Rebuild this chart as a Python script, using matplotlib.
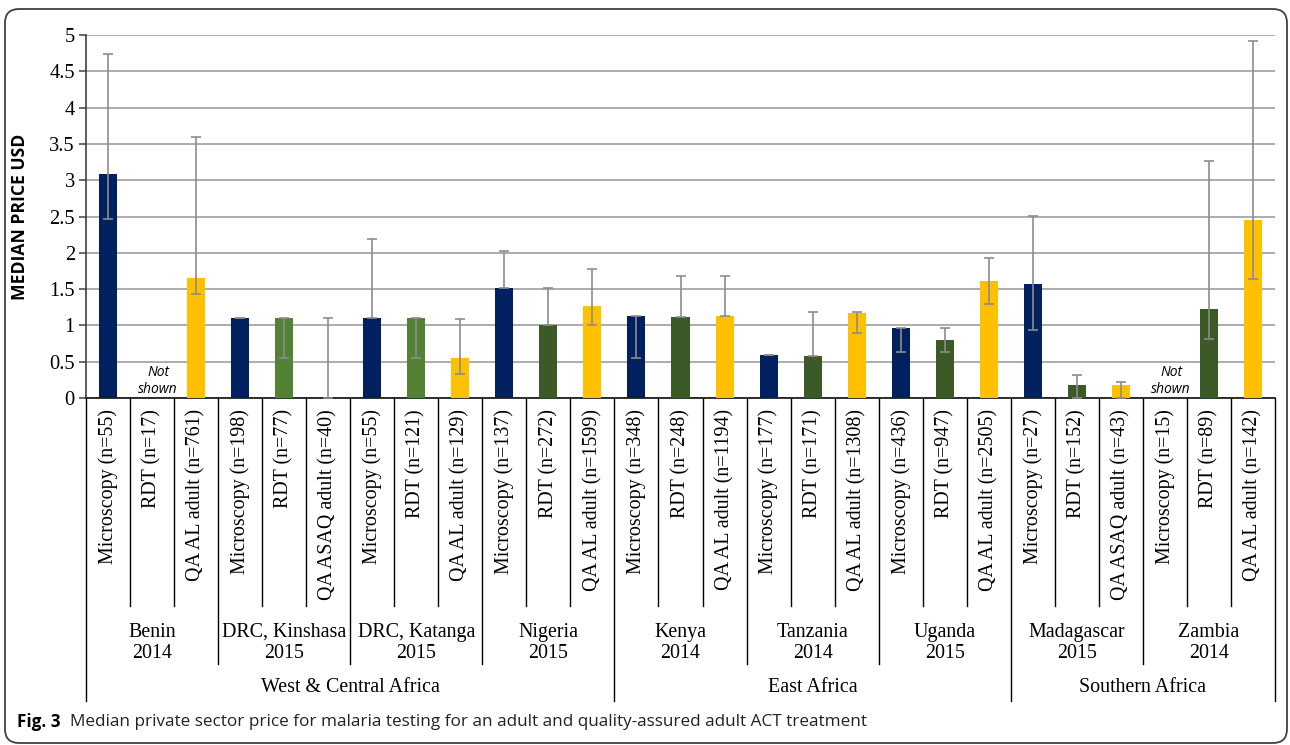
import numpy as np
import matplotlib
matplotlib.use("Agg")
import matplotlib.pyplot as plt
from matplotlib.transforms import blended_transform_factory, IdentityTransform
from matplotlib.patches import FancyBboxPatch

# ---------------- data ----------------
tests = ['Microscopy (n=55)', 'RDT (n=17)', 'QA AL adult (n=761)',
         'Microscopy (n=198)', 'RDT (n=77)', 'QA ASAQ adult (n=40)',
         'Microscopy (n=55)', 'RDT (n=121)', 'QA AL adult (n=129)',
         'Microscopy (n=137)', 'RDT (n=272)', 'QA AL adult (n=1599)',
         'Microscopy (n=348)', 'RDT (n=248)', 'QA AL adult (n=1194)',
         'Microscopy (n=177)', 'RDT (n=171)', 'QA AL adult (n=1308)',
         'Microscopy (n=436)', 'RDT (n=947)', 'QA AL adult (n=2505)',
         'Microscopy (n=27)', 'RDT (n=152)', 'QA ASAQ adult (n=43)',
         'Microscopy (n=15)', 'RDT (n=89)', 'QA AL adult (n=142)']
countries = ['Benin\n2014', 'DRC, Kinshasa\n2015', 'DRC, Katanga\n2015', 'Nigeria\n2015',
             'Kenya\n2014', 'Tanzania\n2014', 'Uganda\n2015',
             'Madagascar\n2015', 'Zambia\n2014']
regions = ['West & Central Africa', 'East Africa', 'Southern Africa']
countries_per_region = [4, 3, 2]
tests_per_country = 3

nan = np.nan
median = [3.09, nan, 1.65, 1.10, 1.10, 0.0, 1.10, 1.10, 0.55,
          1.52, 1.00, 1.27, 1.13, 1.12, 1.13, 0.59, 0.58, 1.17,
          0.96, 0.80, 1.61, 1.57, 0.18, 0.18, nan, 1.22, 2.45]
lower = [2.46, nan, 1.43, 1.10, 0.55, 0.0, 1.10, 0.55, 0.33,
         1.52, 1.00, 1.00, 0.55, 1.12, 1.13, 0.59, 0.58, 0.89,
         0.64, 0.64, 1.29, 0.94, 0.0, 0.0, nan, 0.81, 1.64]
upper = [4.74, nan, 3.60, 1.10, 1.10, 1.10, 2.19, 1.10, 1.09,
         2.03, 1.52, 1.77, 1.13, 1.68, 1.68, 0.59, 1.18, 1.18,
         0.96, 0.96, 1.93, 2.51, 0.31, 0.22, nan, 3.27, 4.92]
not_shown = [1, 24]
yticks = [0, 0.5, 1, 1.5, 2, 2.5, 3, 3.5, 4, 4.5, 5]
ytick_labels = ['0', '0.5', '1', '1.5', '2', '2.5', '3', '3.5', '4', '4.5', '5']

# ---------------- style ----------------
NAVY = '#002060'
GREEN_DARK = '#3B5A25'
GREEN_LIGHT = '#548235'
YELLOW = '#FFC000'
ERR = '#8C8C8C'
SERIF = 'Liberation Serif'
SANS = 'Open Sans'

def bar_color(i):
    t = tests[i]
    c = countries[i // tests_per_country]
    if t.startswith('Microscopy'):
        return NAVY
    if t.startswith('RDT'):
        return GREEN_LIGHT if c.startswith('DRC') else GREEN_DARK
    return YELLOW

W, H = 1290, 745
fig = plt.figure(figsize=(W / 100, H / 100), dpi=100)
ax = fig.add_axes([86 / W, 1 - 398 / H, (1275 - 86) / W, (398 - 35) / H])

n = len(tests)
x = np.arange(n)
med = np.array(median, dtype=float)
lo = np.array(lower, dtype=float)
up = np.array(upper, dtype=float)

ax.bar(x, np.nan_to_num(med), width=0.41, color=[bar_color(i) for i in range(n)],
       zorder=3)
valid = ~np.isnan(med)
ax.errorbar(x[valid], med[valid],
            yerr=[med[valid] - lo[valid], up[valid] - med[valid]],
            fmt='none', ecolor=ERR, elinewidth=1.2, capsize=3.6, capthick=1.2,
            zorder=4)

ax.set_xlim(-0.5, n - 0.5)
ax.set_ylim(0, 5)
ax.set_yticks(yticks)
ax.set_yticklabels(ytick_labels, fontfamily=SERIF, fontsize=14.8)
ax.set_xticks([])
ax.grid(axis='y', color='#A6A6A6', linewidth=1.3, zorder=0)
ax.set_axisbelow(True)
for s in ['top', 'right']:
    ax.spines[s].set_visible(False)
ax.spines['left'].set_color('#404040')
ax.spines['left'].set_linewidth(1.2)
ax.spines['bottom'].set_color('#202020')
ax.spines['bottom'].set_linewidth(1.3)
ax.tick_params(axis='y', direction='out', length=5, width=1.1, color='#404040', pad=3)
ax.set_ylabel('MEDIAN PRICE USD', fontfamily=SANS, fontweight='bold', fontsize=12.6)
ax.yaxis.set_label_coords(-(86 - 29) / 1189, 0.5)

# Not shown labels
for i in not_shown:
    ax.text(i + 0.14, 0.23, 'Not\nshown', ha='center', va='center', fontfamily=SANS,
            fontstyle='italic', fontsize=10, linespacing=1.15, zorder=5)

# ---------------- hierarchical category axis ----------------
trans = blended_transform_factory(ax.transData, fig.transFigure)
def fy(px):
    return 1 - px / H

def vline(xd, y_end_px):
    ax.plot([xd, xd], [fy(398), fy(y_end_px)], color='black', lw=1.0,
            transform=trans, clip_on=False, zorder=2)

region_bounds = [0]
for k in countries_per_region:
    region_bounds.append(region_bounds[-1] + k * tests_per_country)
country_bounds = list(range(0, n + 1, tests_per_country))
for b in range(n + 1):
    if b in region_bounds:
        vline(b - 0.5, 701)
    elif b in country_bounds:
        vline(b - 0.5, 664)
    else:
        vline(b - 0.5, 606)

for i, t in enumerate(tests):
    ax.text(i, fy(409), t, transform=trans, rotation=90, ha='center', va='top',
            fontfamily=SERIF, fontsize=14.4)

for j, c in enumerate(countries):
    xc = j * tests_per_country + (tests_per_country - 1) / 2
    ax.text(xc, fy(643), c, transform=trans, ha='center', va='center',
            fontfamily=SERIF, fontsize=14.4, linespacing=1.15)

for r, name in enumerate(regions):
    xc = (region_bounds[r] + region_bounds[r + 1] - 1) / 2
    ax.text(xc, fy(688), name, transform=trans, ha='center', va='center',
            fontfamily=SERIF, fontsize=14.4)

# ---------------- caption ----------------
t1 = fig.text(17 / W, fy(722), 'Fig. 3', fontfamily=SANS, fontweight='bold',
              fontsize=12.3, va='center')
fig.canvas.draw()
bb = t1.get_window_extent(renderer=fig.canvas.get_renderer())
fig.text((bb.x1 + 10) / W, fy(722),
         'Median private sector price for malaria testing for an adult and quality-assured adult ACT treatment',
         fontfamily=SANS, fontsize=12.3, va='center', color='#222222')

# ---------------- frame ----------------
frame = FancyBboxPatch((5, 2), 1282, 734, boxstyle='round,pad=0,rounding_size=14',
                       transform=IdentityTransform(), fill=False,
                       edgecolor='#404040', linewidth=1.3)
fig.add_artist(frame)

fig.savefig('out.png', dpi=100)
